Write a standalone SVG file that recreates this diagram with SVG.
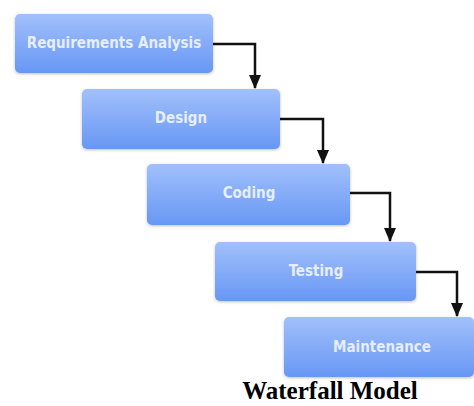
<svg xmlns="http://www.w3.org/2000/svg" width="474" height="406" viewBox="0 0 474 406">
<defs>
<linearGradient id="g" x1="0" y1="0" x2="0" y2="1">
<stop offset="0" stop-color="#a2c0fb"/>
<stop offset="1" stop-color="#6797f4"/>
</linearGradient>
<filter id="sh" x="-10%" y="-10%" width="120%" height="130%">
<feDropShadow dx="0" dy="1" stdDeviation="1.5" flood-color="#000" flood-opacity="0.25"/>
</filter>
<marker id="ah" markerWidth="14" markerHeight="12" refX="13" refY="6" orient="auto" markerUnits="userSpaceOnUse">
<path d="M0,0 L14,6 L0,12 Z" fill="#111"/>
</marker>
</defs>
<style>
.box{fill:url(#g);filter:url(#sh)}
.lbl{font-family:"DejaVu Sans Condensed","DejaVu Sans",sans-serif;font-size:15px;font-weight:bold;fill:#e6eeff;text-anchor:middle;dominant-baseline:central}
.con{fill:none;stroke:#111;stroke-width:2.5;marker-end:url(#ah)}
.title{font-family:"Liberation Serif",serif;font-weight:bold;font-size:25px;fill:#000;text-anchor:middle}
</style>
<g id="n1"><rect class="box" x="15" y="14" width="198" height="59" rx="5"/><text class="lbl" x="114" y="43">Requirements Analysis</text></g>
<g id="n2"><rect class="box" x="82" y="89" width="198" height="60" rx="5"/><text class="lbl" x="181" y="118">Design</text></g>
<g id="n3"><rect class="box" x="147" y="164" width="203" height="61" rx="5"/><text class="lbl" x="249" y="193">Coding</text></g>
<g id="n4"><rect class="box" x="215" y="242" width="201" height="59" rx="5"/><text class="lbl" x="316" y="271">Testing</text></g>
<g id="n5"><rect class="box" x="284" y="317" width="190" height="60" rx="5"/><text class="lbl" x="382" y="347">Maintenance</text></g>
<g id="connectors">
<path class="con" d="M213,44 H255 V88"/>
<path class="con" d="M280,119 H323 V163"/>
<path class="con" d="M350,193 H390 V241"/>
<path class="con" d="M416,272 H457 V316"/>
</g>
<text class="title" x="330" y="399">Waterfall Model</text>
</svg>
